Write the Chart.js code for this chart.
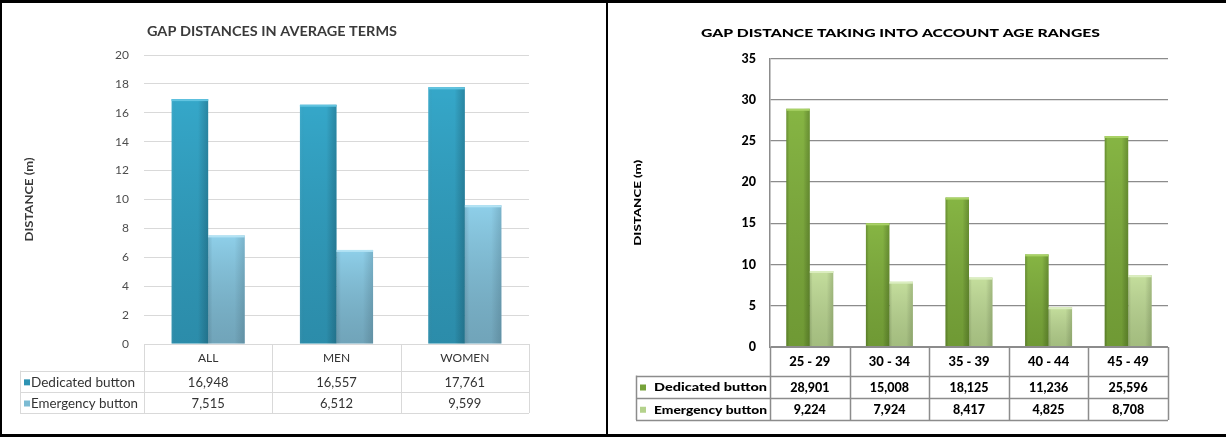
<!DOCTYPE html>
<html>
<head>
<meta charset="utf-8">
<script src="https://cdn.jsdelivr.net/npm/chart.js@4"></script>
<style>
  html, body { margin: 0; padding: 0; background: #fff; }
  #wrap { position: relative; width: 1226px; height: 437px; overflow: hidden; }
  canvas { position: absolute; top: 0; }
  #avgChart { left: 0; }
  #ageChart { left: 608px; }
  .rule { position: absolute; background: #000; }
</style>
</head>
<body>
<div id="wrap">
  <canvas id="avgChart" width="606" height="437"></canvas>
  <canvas id="ageChart" width="618" height="437"></canvas>
  <div class="rule" style="left:0;top:0;width:1226px;height:3px"></div>
  <div class="rule" style="left:0;top:0;width:2px;height:437px"></div>
  <div class="rule" style="left:0;top:434px;width:1226px;height:3px"></div>
  <div class="rule" style="left:606px;top:0;width:2px;height:437px"></div>
</div>
<script>
// ---- data ----
const seriesNames = ['Dedicated button', 'Emergency button'];

const avgCategories = ['ALL', 'MEN', 'WOMEN'];
const avgDedicated = [16.948, 16.557, 17.761];
const avgEmergency = [7.515, 6.512, 9.599];
const avgAxis = { min: 0, max: 20, step: 2 };

const ageCategories = ['25 - 29', '30 - 34', '35 - 39', '40 - 44', '45 - 49'];
const ageDedicated = [28.901, 15.008, 18.125, 11.236, 25.596];
const ageEmergency = [9.224, 7.924, 8.417, 4.825, 8.708];
const ageAxis = { min: 0, max: 35, step: 5 };

// values are written with a decimal comma
const fmt = v => v.toFixed(3).replace('.', ',');

Chart.defaults.font.family = 'Lato, "Open Sans", sans-serif';
Chart.defaults.animation = false;

// draw text stretched/squeezed horizontally to a given width
function fitText(ctx, text, x, y, w, align, rotate) {
  const m = ctx.measureText(text).width || 1;
  ctx.save();
  ctx.translate(x, y);
  if (rotate) ctx.rotate(-Math.PI / 2);
  ctx.scale(w / m, 1);
  ctx.textAlign = align;
  ctx.textBaseline = 'middle';
  ctx.fillText(text, 0, 0);
  ctx.restore();
}

// shading on top of each bar: per-bar vertical darkening, side edges and a light top cap
const barShade = {
  id: 'barShade',
  afterDatasetsDraw(chart, args, o) {
    const ctx = chart.ctx;
    chart.data.datasets.forEach((ds, i) => {
      const meta = chart.getDatasetMeta(i);
      const s = o.styles[i];
      meta.data.forEach(bar => {
        const p = bar.getProps(['x', 'y', 'base', 'width'], true);
        const l = p.x - p.width / 2, h = p.base - p.y;
        ctx.save();
        let g = ctx.createLinearGradient(0, p.y, 0, p.base);
        g.addColorStop(0, 'rgba(0,0,0,0)');
        g.addColorStop(1, s.bottom);
        ctx.fillStyle = g;
        ctx.fillRect(l, p.y, p.width, h);
        g = ctx.createLinearGradient(l, 0, l + p.width, 0);
        g.addColorStop(0, s.leftEdge);
        g.addColorStop(0.12, 'rgba(0,0,0,0)');
        g.addColorStop(0.72, 'rgba(0,0,0,0)');
        g.addColorStop(1, s.rightEdge);
        ctx.fillStyle = g;
        ctx.fillRect(l, p.y, p.width, h);
        ctx.fillStyle = s.cap;
        ctx.fillRect(l, p.y, p.width, 2);
        ctx.restore();
      });
    });
  }
};

// chart title, rotated axis title and the data table under the plot
const panel = {
  id: 'panel',
  afterDraw(chart, args, o) {
    const ctx = chart.ctx;
    const a = chart.chartArea;
    const labels = chart.data.labels;
    const n = labels.length;
    const cw = (a.right - a.left) / n;
    const r0 = a.bottom, r1 = r0 + o.rowH[0], r2 = r1 + o.rowH[1], r3 = r2 + o.rowH[2];
    ctx.save();

    // title
    ctx.fillStyle = o.titleColor;
    ctx.font = o.titleFont;
    fitText(ctx, o.title, o.titleX, o.titleY, o.titleW, 'center');

    // axis title
    ctx.font = o.yTitleFont;
    fitText(ctx, o.yTitle, o.yTitleX, (a.top + a.bottom) / 2, o.yTitleW, 'center', true);

    // table grid
    ctx.strokeStyle = o.lineColor;
    ctx.lineWidth = o.lineWidth;
    ctx.beginPath();
    for (let i = 0; i <= n; i++) {
      const x = Math.round(a.left + i * cw) + 0.5;
      ctx.moveTo(x, r0); ctx.lineTo(x, r3);
    }
    [r1, r2, r3].forEach(y => {
      const yy = Math.round(y) + 0.5;
      ctx.moveTo(o.tableLeft, yy); ctx.lineTo(a.right, yy);
    });
    const xl = Math.round(o.tableLeft) + 0.5;
    ctx.moveTo(xl, r1); ctx.lineTo(xl, r3);
    ctx.stroke();

    // category row
    ctx.fillStyle = o.textColor;
    ctx.textAlign = 'center';
    ctx.textBaseline = 'middle';
    ctx.font = o.catFont;
    labels.forEach((lab, i) => {
      ctx.fillText(lab, chart.scales.x.getPixelForValue(i), (r0 + r1) / 2 + 1, cw - 6);
    });

    // series rows
    const rowMid = [(r1 + r2) / 2 + 1, (r2 + r3) / 2 + 1];
    chart.data.datasets.forEach((ds, k) => {
      ctx.font = o.valFont;
      ctx.textAlign = 'center';
      ds.data.forEach((v, i) => {
        ctx.fillText(fmt(v), chart.scales.x.getPixelForValue(i), rowMid[k], cw - 6);
      });
      ctx.fillStyle = o.keyColors[k];
      ctx.fillRect(o.keyX, rowMid[k] - o.keySize / 2, o.keySize, o.keySize);
      ctx.fillStyle = o.textColor;
      ctx.font = o.legFont;
      fitText(ctx, ds.label, o.legTextX, rowMid[k], o.legTextW[k], 'left');
    });
    ctx.restore();
  }
};

function makeChart(id, cfg) {
  return new Chart(document.getElementById(id), {
    type: 'bar',
    data: {
      labels: cfg.labels,
      datasets: [
        { label: seriesNames[0], data: cfg.series[0], backgroundColor: cfg.fills[0], borderWidth: 0,
          categoryPercentage: cfg.catPct, barPercentage: 1 },
        { label: seriesNames[1], data: cfg.series[1], backgroundColor: cfg.fills[1], borderWidth: 0,
          categoryPercentage: cfg.catPct, barPercentage: 1 }
      ]
    },
    options: {
      responsive: false,
      layout: { padding: cfg.padding },
      scales: {
        x: { display: false },
        y: {
          min: cfg.axis.min, max: cfg.axis.max,
          ticks: { stepSize: cfg.axis.step, padding: cfg.tickPad, color: cfg.tickColor, font: cfg.tickFont },
          grid: { color: cfg.gridColor, lineWidth: cfg.gridWidth, drawTicks: false },
          border: cfg.border,
          afterFit: s => { s.width = cfg.yWidth; }
        }
      },
      plugins: {
        legend: { display: false },
        title: { display: false },
        tooltip: { enabled: false },
        barShade: { styles: cfg.shade },
        panel: cfg.panel
      }
    },
    plugins: [barShade, panel]
  });
}

// ---- average distances ----
makeChart('avgChart', {
  labels: avgCategories,
  series: [avgDedicated, avgEmergency],
  axis: avgAxis,
  fills: ['#35a7c9', '#8ecfe9'],
  catPct: 0.57,
  padding: { top: 55, bottom: 93, left: 0, right: 77 },
  yWidth: 144,
  tickPad: 15,
  tickColor: '#4d4d4d',
  tickFont: { size: 12 },
  gridColor: '#d9d9d9',
  gridWidth: 1,
  border: { display: false },
  shade: [
    { bottom: 'rgba(10,45,60,0.22)', leftEdge: 'rgba(255,255,255,0.06)', rightEdge: 'rgba(0,20,30,0.22)', cap: '#62c4e0' },
    { bottom: 'rgba(45,65,75,0.30)', leftEdge: 'rgba(0,40,60,0.12)', rightEdge: 'rgba(0,20,30,0.14)', cap: '#b3e3f4' }
  ],
  panel: {
    title: 'GAP DISTANCES IN AVERAGE TERMS', titleFont: 'bold 13px Lato', titleColor: '#3a3a3a',
    titleX: 272, titleY: 32, titleW: 250,
    yTitle: 'DISTANCE (m)', yTitleFont: 'bold 10.5px Lato', yTitleX: 30, yTitleW: 84,
    tableLeft: 20, rowH: [26.7, 21.3, 21], lineColor: '#d9d9d9', lineWidth: 1,
    textColor: '#333333', catFont: '12px Lato', valFont: '13px Lato', legFont: '13px Lato',
    keyX: 24, keySize: 6, keyColors: ['#2e93b3', '#7cbbd3'],
    legTextX: 31, legTextW: [104, 107]
  }
});

// ---- age ranges ----
makeChart('ageChart', {
  labels: ageCategories,
  series: [ageDedicated, ageEmergency],
  axis: ageAxis,
  fills: ['#86b543', '#c4de9c'],
  catPct: 0.59,
  padding: { top: 58.5, bottom: 90, left: 0, right: 58 },
  yWidth: 162,
  tickPad: 14,
  tickColor: '#000',
  tickFont: { size: 12.5, weight: 900 },
  gridColor: '#8c8c8c',
  gridWidth: c => (c.tick && c.tick.value === 0 ? 2 : 1.3),
  border: { display: true, color: '#8c8c8c', width: 1.5 },
  shade: [
    { bottom: 'rgba(30,55,0,0.22)', leftEdge: 'rgba(20,40,0,0.25)', rightEdge: 'rgba(20,40,0,0.25)', cap: '#a9d266' },
    { bottom: 'rgba(45,70,20,0.22)', leftEdge: 'rgba(30,50,10,0.15)', rightEdge: 'rgba(30,50,10,0.18)', cap: '#dbeec0' }
  ],
  panel: {
    title: 'GAP DISTANCE TAKING INTO ACCOUNT AGE RANGES', titleFont: '900 12px Lato', titleColor: '#000',
    titleX: 292.5, titleY: 33, titleW: 399,
    yTitle: 'DISTANCE (m)', yTitleFont: '900 10px Lato', yTitleX: 30, yTitleW: 86,
    tableLeft: 28, rowH: [28.5, 22, 22.5], lineColor: '#8c8c8c', lineWidth: 1.5,
    textColor: '#000', catFont: '900 13px Lato', valFont: '900 12.5px Lato', legFont: '900 12px Lato',
    keyX: 32, keySize: 6, keyColors: ['#76a23a', '#b4d28c'],
    legTextX: 46, legTextW: [113, 113]
  }
});
</script>
</body>
</html>
